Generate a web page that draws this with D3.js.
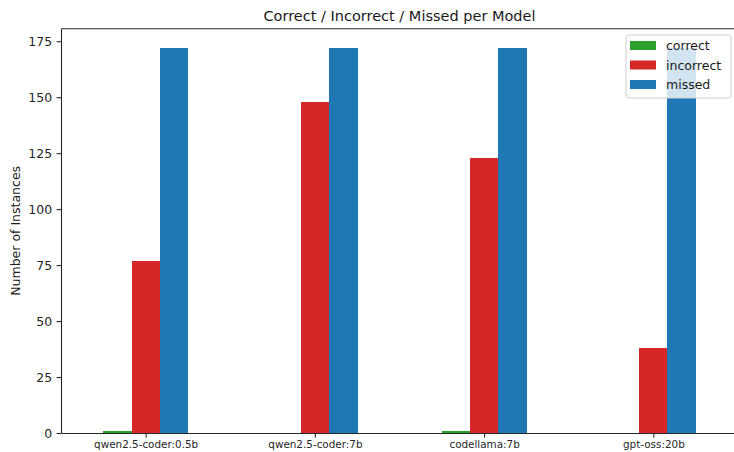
<!DOCTYPE html>
<html>
<head>
<meta charset="utf-8">
<script src="https://cdn.jsdelivr.net/npm/d3@7"></script>
<style>
  html, body { margin: 0; padding: 0; background: #fff; }
  svg { display: block; font-family: "DejaVu Sans", sans-serif; }
</style>
</head>
<body>
<svg id="chart" width="734" height="452"></svg>
<script>
// Per-model outcome counts
const models = ["qwen2.5-coder:0.5b", "qwen2.5-coder:7b", "codellama:7b", "gpt-oss:20b"];
const seriesNames = ["correct", "incorrect", "missed"];
const correct = [1, 0, 1, 0];
const incorrect = [77, 148, 123, 38];
const missed = [172, 172, 172, 172];
const colors = ["#2ca02c", "#d62728", "#1f77b4"];
const yTicks = [0, 25, 50, 75, 100, 125, 150, 175];

const seriesValues = [correct, incorrect, missed];

const svg = d3.select("#chart");
const margin = { left: 61, right: 738, top: 28.7, bottom: 433 };

// Category axis in index units, half a unit padding at each side
const x = d3.scaleLinear().domain([-0.5, models.length - 0.5]).range([margin.left, margin.right]);
const yMax = d3.max(seriesValues.flat()) * 1.05;
const y = d3.scaleLinear().domain([0, yMax]).range([margin.bottom, margin.top]);

const barW = 0.5 / seriesNames.length;

// Bars
seriesValues.forEach((vals, si) => {
  svg.append("g").attr("shape-rendering", "crispEdges").selectAll("rect")
    .data(vals)
    .join("rect")
    .attr("x", (d, i) => x(i - 0.25 + si * barW))
    .attr("width", (d, i) => x(i - 0.25 + (si + 1) * barW) - x(i - 0.25 + si * barW) + 0.5)
    .attr("y", d => y(d))
    .attr("height", d => y(0) - y(d))
    .attr("fill", colors[si]);
});

// Y axis
const yAxis = svg.append("g")
  .attr("transform", `translate(${margin.left},0)`)
  .call(d3.axisLeft(y).tickValues(yTicks).tickSize(4.4).tickSizeOuter(0).tickPadding(4.5));
yAxis.select(".domain").attr("stroke", "#262626").attr("stroke-width", 1.1);
yAxis.selectAll(".tick line").attr("stroke", "#262626").attr("stroke-width", 1.1);
yAxis.selectAll(".tick text").attr("font-size", 12.5).attr("fill", "#262626")
  .attr("font-family", "DejaVu Sans");

// X axis
const xAxis = svg.append("g")
  .attr("transform", `translate(0,${margin.bottom})`)
  .call(d3.axisBottom(x).tickValues(d3.range(models.length)).tickFormat(i => models[i])
    .tickSize(4.4).tickSizeOuter(0).tickPadding(3.5));
xAxis.select(".domain").attr("stroke", "#262626").attr("stroke-width", 1.1);
xAxis.selectAll(".tick line").attr("stroke", "#262626").attr("stroke-width", 1.1);
xAxis.selectAll(".tick text").attr("font-size", 10.4).attr("fill", "#262626")
  .attr("font-family", "DejaVu Sans");

// Top spine
svg.append("line")
  .attr("x1", margin.left).attr("x2", margin.right)
  .attr("y1", margin.top).attr("y2", margin.top)
  .attr("stroke", "#262626").attr("stroke-width", 1.1);

// Title
svg.append("text")
  .attr("x", (margin.left + margin.right) / 2)
  .attr("y", 21)
  .attr("text-anchor", "middle")
  .attr("font-size", 14.5)
  .attr("fill", "#1a1a1a")
  .text("Correct / Incorrect / Missed per Model");

// Y label
svg.append("text")
  .attr("transform", `translate(20,${(margin.top + margin.bottom) / 2}) rotate(-90)`)
  .attr("text-anchor", "middle")
  .attr("font-size", 12.5)
  .attr("fill", "#1a1a1a")
  .text("Number of Instances");

// Legend
const lg = svg.append("g").attr("transform", "translate(626,35)");
lg.append("rect")
  .attr("width", 105).attr("height", 63)
  .attr("rx", 3).attr("ry", 3)
  .attr("fill", "rgba(255,255,255,0.8)")
  .attr("stroke", "#d0d0d0").attr("stroke-width", 1);
seriesNames.forEach((name, i) => {
  const cy = 10.5 + i * 19.5;
  lg.append("rect")
    .attr("x", 4).attr("y", cy - 4.5)
    .attr("width", 26).attr("height", 9)
    .attr("fill", colors[i]);
  lg.append("text")
    .attr("x", 40).attr("y", cy + 4.5)
    .attr("font-size", 12.5)
    .attr("fill", "#1a1a1a")
    .text(name);
});
</script>
</body>
</html>
